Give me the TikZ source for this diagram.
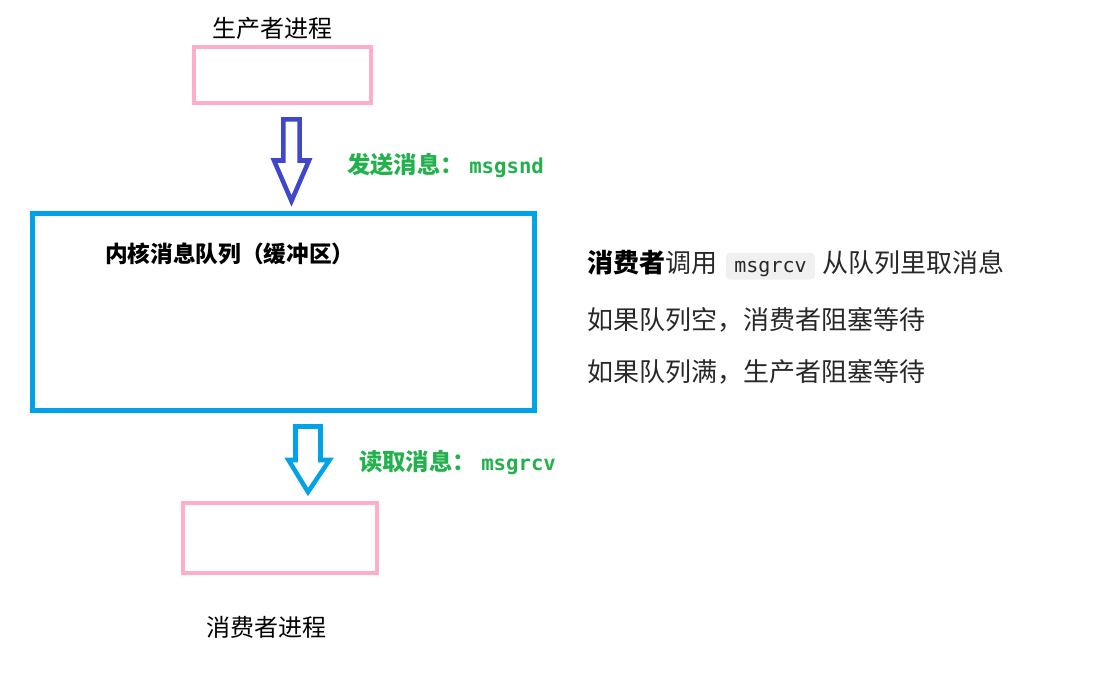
\documentclass[tikz,border=0pt]{standalone}
\usepackage{fontspec}
\setmainfont{Noto Sans CJK SC}
\newfontfamily\cjkf{Noto Sans CJK SC}
\newfontfamily\monof{DejaVu Sans Mono}
\definecolor{pinkc}{RGB}{255,174,201}
\definecolor{bluec}{RGB}{0,162,232}
\definecolor{indigoc}{RGB}{63,72,204}
\definecolor{greenc}{RGB}{34,177,76}
\definecolor{textc}{RGB}{40,40,40}
\definecolor{codebg}{RGB}{240,240,240}
\tikzset{
  procbox/.style={draw=pinkc, line width=3pt, inner sep=0pt},
  queuebox/.style={draw=bluec, line width=3.75pt, inner sep=0pt},
  title/.style={font=\cjkf\fontsize{18}{20}\selectfont, inner sep=0pt},
  qtitle/.style={font=\cjkf\bfseries\fontsize{17}{20}\selectfont, inner sep=0pt, anchor=west},
  glabel/.style={font=\cjkf\bfseries\fontsize{17.5}{20}\selectfont, text=greenc, inner sep=0pt, anchor=west},
  note/.style={font=\cjkf\fontsize{19.5}{22}\selectfont, text=textc, inner sep=0pt, anchor=west},
  hollowarrow/.style={line width=3.4pt, line join=miter, fill=white},
  codebox/.style={fill=codebg, rounded corners=3pt, inner xsep=0pt, inner ysep=0pt,
    minimum width={89*0.75pt}, text height=15pt, text depth=5pt,
    font=\monof\fontsize{15}{18}\selectfont, text=textc, anchor=base},
}
\begin{document}
\begin{tikzpicture}[x=0.75pt, y=-0.75pt]
\useasboundingbox (0,0) rectangle (1098,675);
% producer
\node[title] (ptitle) at (272,28) {生产者进程};
\node[procbox, minimum width={177*0.75pt}, minimum height={56*0.75pt}] (prod) at (282.5,75) {};
% arrow 1
\draw[hollowarrow, draw=indigoc] (283.3,119.3) -- (299.7,119.3) -- (299.7,160.5) -- (309,160.5) -- (291.5,201) -- (274,160.5) -- (283.3,160.5) -- cycle;
\node[glabel] (sndlabel) at (347,166) {发送消息：\hspace{4pt}{\monof\bfseries\fontsize{15.5}{20}\selectfont msgsnd}};
% queue
\node[queuebox, minimum width={502*0.75pt}, minimum height={197*0.75pt}] (queue) at (283.5,312) {};
\node[qtitle] (qtitle) at (105,254) {内核消息队列（缓冲区）};
% arrow 2
\draw[hollowarrow, draw=bluec] (295.5,426.5) -- (320.5,426.5) -- (320.5,460) -- (329.5,460) -- (308,492) -- (288.5,460) -- (295.5,460) -- cycle;
\node[glabel] (rcvlabel) at (359,463) {读取消息：\hspace{4pt}{\monof\bfseries\fontsize{15.5}{20}\selectfont msgrcv}};
% consumer
\node[procbox, minimum width={194*0.75pt}, minimum height={70*0.75pt}] (cons) at (280,538) {};
\node[title] (ctitle) at (266,627) {消费者进程};
% notes
\node[note] (n1a) at (587,263) {{\bfseries\color{black}消费者}调用};
\coordinate (cx) at (770.5,0);
\node[codebox] (code) at (cx |- n1a.base) {msgrcv};
\node[note] (n1b) at (822,263) {从队列里取消息};
\node[note] (n2) at (587,320) {如果队列空，消费者阻塞等待};
\node[note] (n3) at (587,372) {如果队列满，生产者阻塞等待};
\end{tikzpicture}
\end{document}
